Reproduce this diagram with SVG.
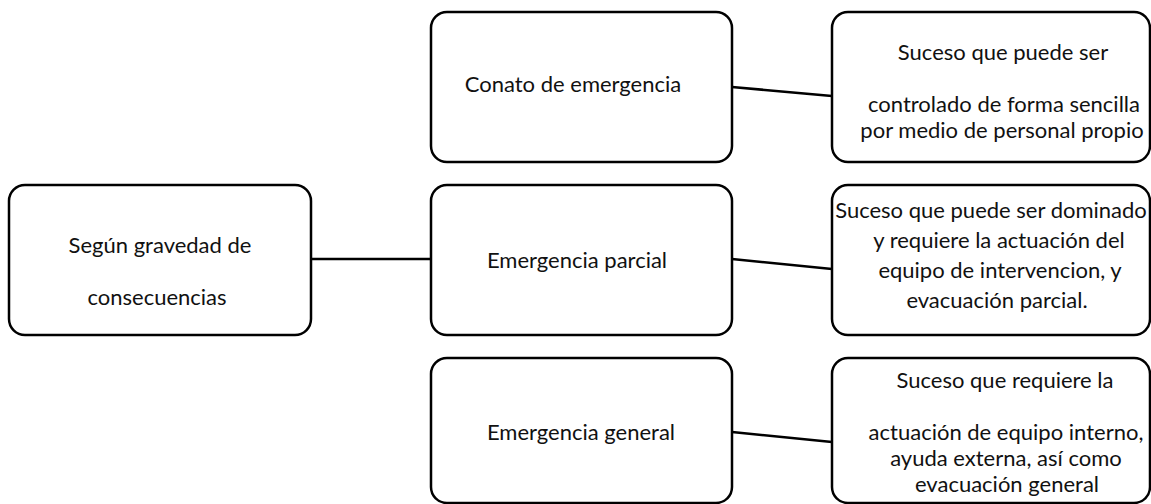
<svg xmlns="http://www.w3.org/2000/svg" width="1151" height="504" viewBox="0 0 1151 504">
<style>
.box{fill:#fff;stroke:#000;stroke-width:2.5}
.t{font-family:Lato,"Open Sans","Liberation Sans",sans-serif;font-size:22px;fill:#111;text-anchor:middle}
.c{stroke:#000;stroke-width:2.5;fill:none}
</style>
<rect width="1151" height="504" fill="#fff"/>
<g id="connectors">
<line class="c" x1="311" y1="259" x2="431" y2="259"/>
<line class="c" x1="732" y1="87" x2="832" y2="96"/>
<line class="c" x1="732" y1="259" x2="832" y2="269"/>
<line class="c" x1="732" y1="432" x2="832" y2="442"/>
</g>
<g id="n-gravedad">
<rect class="box" x="9" y="185" width="302" height="150" rx="16"/>
<text class="t" x="160" y="253">Según gravedad de</text>
<text class="t" x="157" y="305">consecuencias</text>
</g>
<g id="n-conato">
<rect class="box" x="431" y="12" width="301" height="150" rx="16"/>
<text class="t" x="573" y="92">Conato de emergencia</text>
</g>
<g id="n-parcial">
<rect class="box" x="431" y="185" width="301" height="150" rx="16"/>
<text class="t" x="577" y="268">Emergencia parcial</text>
</g>
<g id="n-general">
<rect class="box" x="431" y="358" width="301" height="145" rx="16"/>
<text class="t" x="581" y="440">Emergencia general</text>
</g>
<g id="d-conato">
<rect class="box" x="832" y="12" width="318" height="150" rx="16"/>
<text class="t" x="1003" y="60">Suceso que puede ser</text>
<text class="t" x="1004" y="112">controlado de forma sencilla</text>
<text class="t" x="1002" y="138">por medio de personal propio</text>
</g>
<g id="d-parcial">
<rect class="box" x="832" y="185" width="318" height="150" rx="16"/>
<text class="t" x="991" y="218">Suceso que puede ser dominado</text>
<text class="t" x="999" y="248">y requiere la actuación del</text>
<text class="t" x="1000" y="278">equipo de intervencion, y</text>
<text class="t" x="997" y="308">evacuación parcial.</text>
</g>
<g id="d-general">
<rect class="box" x="832" y="358" width="318" height="145" rx="16"/>
<text class="t" x="1005" y="388">Suceso que requiere la</text>
<text class="t" x="1006" y="440">actuación de equipo interno,</text>
<text class="t" x="1006" y="466">ayuda externa, así como</text>
<text class="t" x="1007" y="492">evacuación general</text>
</g>
</svg>
